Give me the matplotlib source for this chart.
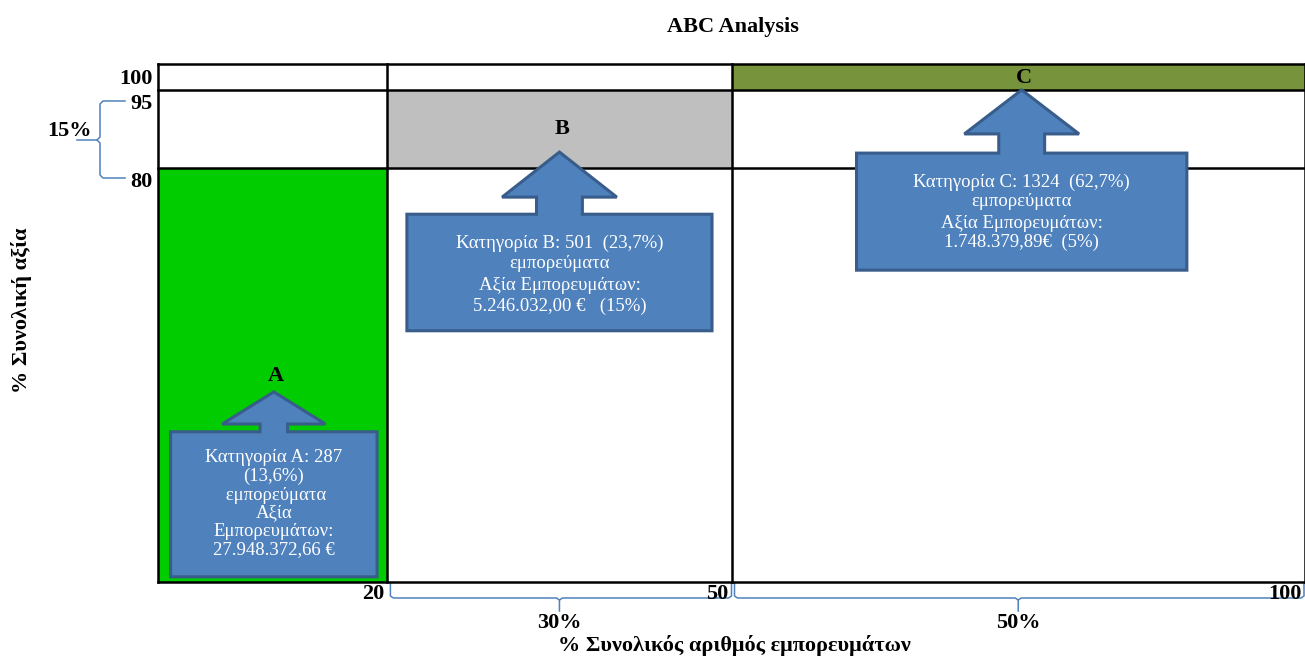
import matplotlib
matplotlib.use('Agg')
import matplotlib.pyplot as plt
from matplotlib.patches import Rectangle, Polygon

plt.rcParams['font.family'] = ['Liberation Serif', 'DejaVu Serif']

# Δεδομένα ABC
kathgories = ['A', 'B', 'C']
x_oria = [0, 20, 50, 100]          # % συνολικός αριθμός εμπορευμάτων
y_oria = [0, 80, 95, 100]          # % συνολική αξία
plithos = [287, 501, 1324]
pososto_plithous = ['13,6%', '23,7%', '62,7%']
axia = ['27.948.372,66 €', '5.246.032,00 €', '1.748.379,89€']
pososto_axias = ['', '15%', '5%']
xroma = ['#00CC00', '#BFBFBF', '#77933C']

fig = plt.figure(figsize=(13.05, 6.58), dpi=100)
W, H = 1305, 658
ax = fig.add_axes([158 / W, (H - 582) / H, (1305 - 158) / W, (582 - 64) / H])
ax.set_xlim(0, 100)
ax.set_ylim(0, 100)
ax.axis('off')

px = 100 / (1305 - 158)   # data ανά pixel στον x
py = 100 / (582 - 64)     # data ανά pixel στον y

BOLD = 16
TXT = 13.5

# Ζώνες A, B, C
for i, k in enumerate(kathgories):
    ax.add_patch(Rectangle((x_oria[i], y_oria[i]), x_oria[i + 1] - x_oria[i],
                           y_oria[i + 1] - y_oria[i], facecolor=xroma[i],
                           edgecolor='none', zorder=1))

# Γραμμές πλέγματος
lw = 1.8
for yv in [0, 80, 95, 100]:
    ax.plot([0, 100], [yv, yv], color='black', lw=lw, clip_on=False, zorder=3)
for xv in [0, 20, 50, 100]:
    ax.plot([xv, xv], [0, 100], color='black', lw=lw, clip_on=False, zorder=3)

# Ετικέτες αξόνων (τιμές)
for yv in [100, 95, 80]:
    ax.text(-0.5, yv - 2.8, str(yv), ha='right', va='center', fontsize=BOLD,
            fontweight='bold')
for xv in [20, 50, 100]:
    ax.text(xv - 0.3, -12 * py, str(xv), ha='right', va='center', fontsize=BOLD,
            fontweight='bold', clip_on=False)

# Callouts (βέλη με κουτί)
# (x0, x1, y0, y1, κορυφή, βάση κεφαλής, μισό πλάτος κεφαλής, μισό πλάτος κορμού)
callouts = [
    (1.1, 19.1, 1.0, 29.0, 36.7, 30.5, 4.5, 1.2),
    (21.7, 48.3, 48.5, 71.0, 83.0, 74.3, 5.0, 2.0),
    (60.9, 89.7, 60.2, 82.8, 95.0, 86.5, 5.0, 2.0),
]
keimena = [
    [f'Κατηγορία A: {plithos[0]}', f'({pososto_plithous[0]})', ' εμπορεύματα',
     'Αξία', 'Εμπορευμάτων:', axia[0]],
    [f'Κατηγορία B: {plithos[1]}  ({pososto_plithous[1]})', 'εμπορεύματα', None,
     'Αξία Εμπορευμάτων:', f'{axia[1]}   ({pososto_axias[1]})'],
    [f'Κατηγορία C: {plithos[2]}  ({pososto_plithous[2]})', 'εμπορεύματα', None,
     'Αξία Εμπορευμάτων:', f'{axia[2]}  ({pososto_axias[2]})'],
]
grammes_y = [
    [458, 476, 495, 513, 532, 550],
    [243, 263, None, 286, 306],
    [182, 201, None, 223, 242],
]
etiketes_y = [376, 129, 78]

for i, (x0, x1, y0, y1, tip, hb, hh, sh) in enumerate(callouts):
    cx = (x0 + x1) / 2
    pts = [(x0, y0), (x1, y0), (x1, y1), (cx + sh, y1), (cx + sh, hb),
           (cx + hh, hb), (cx, tip), (cx - hh, hb), (cx - sh, hb),
           (cx - sh, y1), (x0, y1)]
    ax.add_patch(Polygon(pts, closed=True, facecolor='#4F81BD',
                         edgecolor='#385D8A', lw=2.2, zorder=4))
    for line, ypix in zip(keimena[i], grammes_y[i]):
        if line is None:
            continue
        ax.text(cx, (582 - ypix) * py, line, ha='center', va='center',
                color='white', fontsize=TXT, zorder=5)
    ax.text(cx + 0.2, (582 - etiketes_y[i]) * py, kathgories[i], ha='center',
            va='center', fontsize=BOLD, fontweight='bold', zorder=5)

# Άγκιστρα (μπλε)
brace_c = '#4F81BD'


def brace_h(xa, xb, xm, ytop, ymid, ytip):
    v1 = [(xa, ytop), (xa, ymid + 2 * py), (xa + 3 * px, ymid),
          (xm - 3 * px, ymid), (xm, ymid - 2 * py), (xm, ytip)]
    v2 = [(xm, ymid - 2 * py), (xm + 3 * px, ymid), (xb - 3 * px, ymid),
          (xb, ymid + 2 * py), (xb, ytop)]
    for v in (v1, v2):
        xs, ys = zip(*v)
        ax.plot(xs, ys, color=brace_c, lw=1.1, clip_on=False, zorder=2)


brace_h(20 + 3 * px, 50, 35, -1 * py, -16 * py, -29 * py)
brace_h(50 + 3 * px, 100 - 1 * px, 75, -1 * py, -16 * py, -29 * py)
ax.text(35, -41 * py, f'{x_oria[2] - x_oria[1]}%', ha='center', va='center',
        fontsize=BOLD, fontweight='bold', clip_on=False)
ax.text(75, -41 * py, f'{x_oria[3] - x_oria[2]}%', ha='center', va='center',
        fontsize=BOLD, fontweight='bold', clip_on=False)

# Κάθετο άγκιστρο 15%
bx = (100 - 158) * px
xr = (125 - 158) * px
xt = (77 - 158) * px
ya, yb = (582 - 101) * py, (582 - 178) * py
ym = (582 - 140) * py
left = [(xr, ya), (bx + 3 * px, ya), (bx, ya - 3 * py), (bx, ym + 3 * py),
        (bx - 3 * px, ym), (xt, ym)]
left2 = [(bx - 3 * px, ym), (bx, ym - 3 * py), (bx, yb + 3 * py),
         (bx + 3 * px, yb), (xr, yb)]
for v in (left, left2):
    xs, ys = zip(*v)
    ax.plot(xs, ys, color=brace_c, lw=1.1, clip_on=False, zorder=2)
ax.text((70 - 158) * px, (582 - 131) * py, f'{y_oria[2] - y_oria[1]}%',
        ha='center', va='center', fontsize=BOLD, fontweight='bold',
        clip_on=False)

# Τίτλοι
fig.text(733 / W, 1 - 27 / H, 'ABC Analysis', ha='center', va='center',
         fontsize=BOLD, fontweight='bold')
fig.text(734 / W, 1 - 646 / H, '% Συνολικός αριθμός εμπορευμάτων',
         ha='center', va='center', fontsize=BOLD, fontweight='bold')
fig.text(22 / W, 1 - 310 / H, '% Συνολική αξία', ha='center', va='center',
         rotation=90, fontsize=BOLD, fontweight='bold')

fig.savefig('out.png', dpi=100)
